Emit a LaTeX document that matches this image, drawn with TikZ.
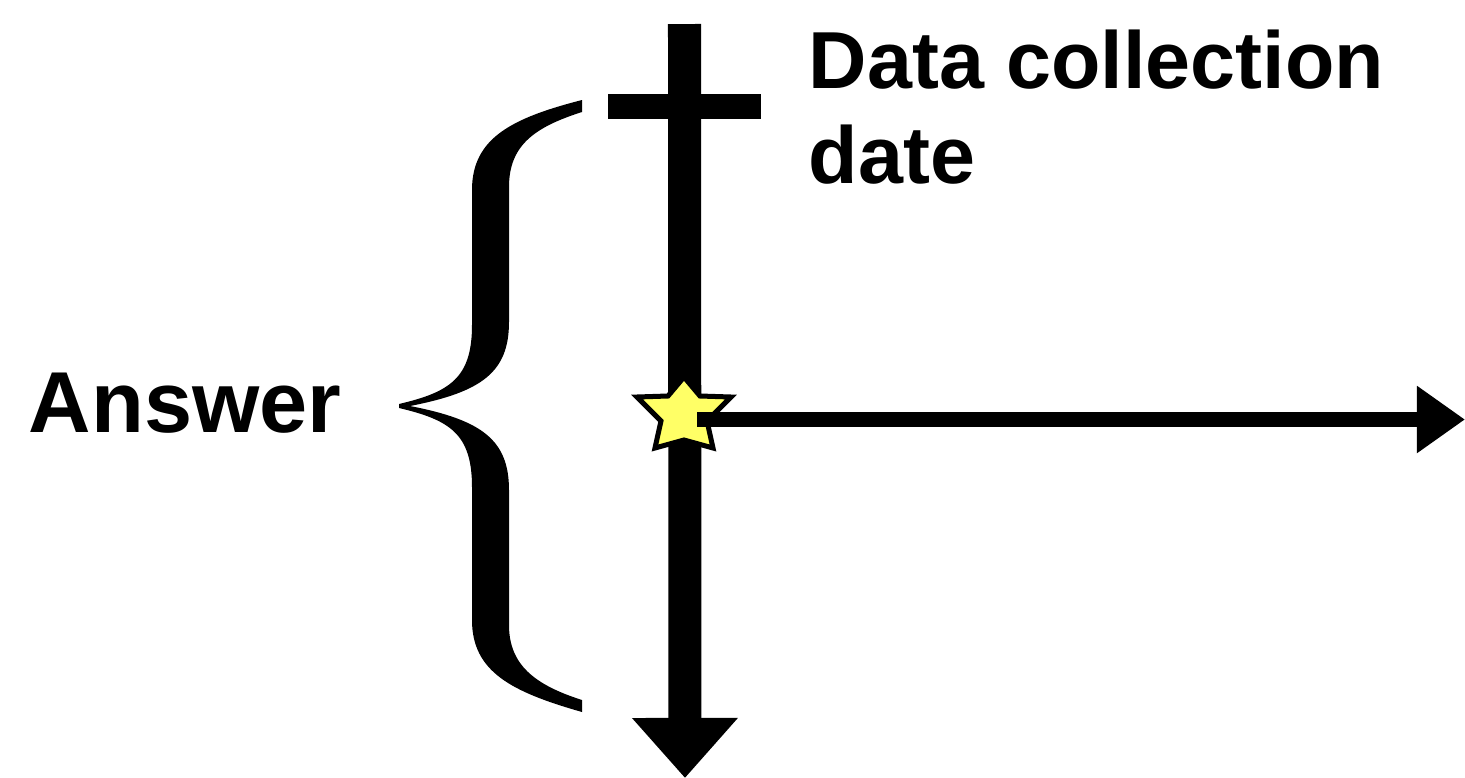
\documentclass[tikz,border=0pt]{standalone}
\usepackage{fontspec}
\setmainfont{Liberation Sans}
\usetikzlibrary{arrows.meta}
\definecolor{staryellow}{RGB}{255,255,102}
\begin{document}
\begin{tikzpicture}[x=0.01cm,y=-0.01cm,
  thickarrow/.style={line width=3.3mm,-{Triangle[length=6mm,width=10.2mm]}},
  thinarrow/.style={line width=1.5mm,-{Triangle[length=4.8mm,width=6.4mm]}},
  lbl/.style={inner sep=0pt,font=\bfseries}]
\useasboundingbox (0,0) rectangle (1465,778);
% coordinates
\coordinate (vtop) at (684.5,24);
\coordinate (vtip) at (685,778);
\coordinate (cbl) at (608,106.5);
\coordinate (cbr) at (761,106.5);
\coordinate (hstart) at (697,419.5);
\coordinate (htip) at (1465,419.5);
% vertical axis
\draw[thickarrow] (vtop) -- (vtip);
\draw[line width=2.5mm] (cbl) -- (cbr);
% brace
\fill[line join=round] (582,100) .. controls (512,118) and (472,138) .. (472,190)
 -- (472,325)
 .. controls (472,378) and (450,392) .. (399,404)
 -- (399,408)
 .. controls (450,420) and (472,434) .. (472,487)
 -- (472,620)
 .. controls (472,672) and (512,692) .. (582,712)
 -- (582,700)
 .. controls (535,685) and (509,665) .. (509,625)
 -- (509,490)
 .. controls (509,440) and (482,420) .. (410,406)
 .. controls (482,392) and (509,372) .. (509,322)
 -- (509,187)
 .. controls (509,145) and (535,127) .. (582,112)
 -- cycle;
% star
\filldraw[fill=staryellow,draw=black,line width=0.5mm,line join=miter]
 (684,377) -- (700,396) -- (731,397) -- (707,421) -- (713,448)
 -- (684,440) -- (655,448) -- (661,421) -- (637,397) -- (668,396) -- cycle;
% horizontal axis
\draw[thinarrow] (hstart) -- (htip);
% labels
\node[lbl,anchor=base west,font=\bfseries\fontsize{24.6}{28}\selectfont] (answer) at (28,432) {Answer};
\node[lbl,anchor=base west,align=left,font=\bfseries\fontsize{23}{27}\selectfont] (datelbl) at (808,183) {Data collection\\date};
\end{tikzpicture}
\end{document}
